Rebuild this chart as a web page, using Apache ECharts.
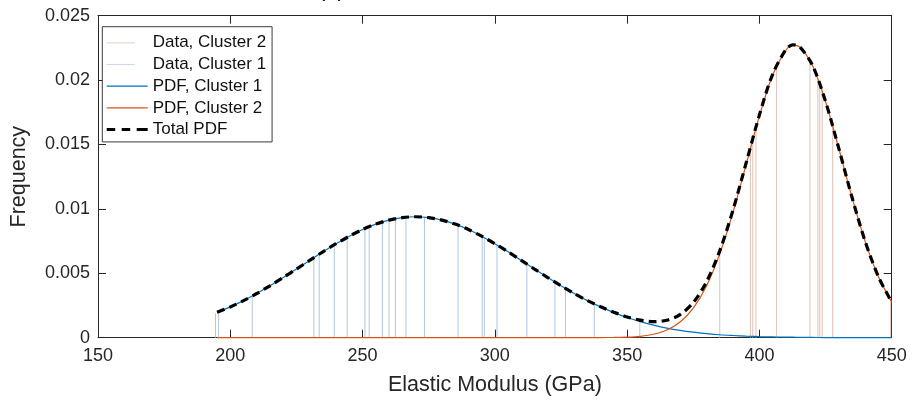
<!DOCTYPE html>
<html>
<head>
<meta charset="utf-8">
<script src="https://cdn.jsdelivr.net/npm/echarts@6/dist/echarts.min.js"></script>
<style>
html,body{margin:0;padding:0;background:#fff;}
#chart{width:912px;height:404px;}
</style>
</head>
<body>
<div id="chart"></div>
<script>
// ---- data ----
const xTicks = [150, 200, 250, 300, 350, 400, 450];
const yTicks = [0, 0.005, 0.01, 0.015, 0.02, 0.025];

const modulusGrid = [195,200,205,210,215,220,225,230,235,240,245,250,255,260,265,270,275,280,285,290,295,300,305,310,315,320,325,330,335,340,345,350,355,360,365,370,375,380,385,390,395,400,405,410,412.5,415,420,425,430,435,440,445,450];
const pdfCluster1 = [0.00198,0.00239,0.00288,0.00343,0.00403,0.00467,0.00533,0.00600,0.00667,0.00730,0.00788,0.00840,0.00882,0.00913,0.00932,0.00939,0.00932,0.00913,0.00882,0.00840,0.00788,0.00730,0.00667,0.00600,0.00533,0.00467,0.00403,0.00343,0.00288,0.00239,0.00195,0.00157,0.00125,0.00098,0.00075,0.00057,0.00043,0.00032,0.00023,0.00017,0.00012,0.00008,0.00006,0.00004,0.00004,0.00003,0.00002,0.00001,0.00001,0.00001,0,0,0];
const pdfCluster2 = [0,0,0,0,0,0,0,0,0,0,0,0,0,0,0,0,0,0,0,0,0,0,0,0,0,0,0,0,0,0.00001,0.00002,0.00004,0.00011,0.00027,0.00060,0.00122,0.00230,0.00402,0.00651,0.00973,0.01346,0.01722,0.02039,0.02232,0.02270,0.02260,0.02116,0.01833,0.01469,0.01089,0.00746,0.00473,0.00277];
const pdfTotal = [0.00198,0.00239,0.00288,0.00343,0.00403,0.00467,0.00533,0.00600,0.00667,0.00730,0.00788,0.00840,0.00882,0.00913,0.00932,0.00939,0.00932,0.00913,0.00882,0.00840,0.00788,0.00730,0.00667,0.00600,0.00533,0.00467,0.00403,0.00343,0.00288,0.00240,0.00197,0.00161,0.00136,0.00125,0.00135,0.00179,0.00273,0.00434,0.00674,0.00990,0.01358,0.01730,0.02045,0.02236,0.02274,0.02263,0.02118,0.01834,0.01470,0.01090,0.00746,0.00473,0.00277];

const dataCluster1X = [194.4,195.6,208.3,231.6,233.6,239.3,244.2,250.9,252.5,257.5,260.0,262.4,266.4,273.4,286.1,295.2,296.0,300.8,312.1,322.7,326.7,337.6,354.8];
const dataCluster1Y = [0.00190,0.00200,0.00324,0.00622,0.00648,0.00722,0.00780,0.00848,0.00862,0.00899,0.00913,0.00924,0.00936,0.00936,0.00873,0.00786,0.00777,0.00720,0.00572,0.00432,0.00382,0.00262,0.00126];
const dataCluster2X = [385.0,396.6,397.5,398.7,406.5,419.1,422.1,422.8,423.7,427.7,449.6];
const dataCluster2Y = [0.00651,0.01469,0.01538,0.01628,0.02112,0.02154,0.02012,0.01972,0.01917,0.01643,0.00290];

const seriesNames = ['Data, Cluster 2','Data, Cluster 1','PDF, Cluster 1','PDF, Cluster 2','Total PDF'];

// ---- chart ----
const FONT = '"Liberation Sans", Arial, Helvetica, sans-serif';
const AX = '#262626';
const C1 = '#0072BD', C2 = '#D95319';
const C1L = '#b0c7dd', C2L = '#dfc2b6';

function zipXY(xs, ys){ return xs.map((x,i)=>[x, ys[i]]); }

function stemRender(color){
  return function(params, api){
    const x = api.value(0), y = api.value(1);
    const p0 = api.coord([x, 0]);
    const p1 = api.coord([x, y]);
    return {
      type: 'line',
      shape: {x1: p0[0], y1: p0[1], x2: p1[0], y2: p1[1]},
      style: {stroke: color, lineWidth: 1}
    };
  };
}

const lineIcon = 'path://M0,0M41,14M0,6.4L41,6.4L41,7.6L0,7.6Z';
const shortIcon = 'path://M0,0M41,14M0,6.4L28,6.4L28,7.6L0,7.6Z';
const dashIcon = 'path://M0,0M41,14M0,5.5L8.5,5.5L8.5,8.5L0,8.5Z M15,5.5L23.5,5.5L23.5,8.5L15,8.5Z M30,5.5L41,5.5L41,8.5L30,8.5Z';

const chart = echarts.init(document.getElementById('chart'), null, {renderer: 'canvas'});

const axisCommon = {
  type: 'value',
  axisLine: {show: true, onZero: false, lineStyle: {color: AX, width: 1}},
  axisTick: {show: true, inside: true, length: 8, lineStyle: {color: AX, width: 1}},
  splitLine: {show: false}
};

chart.setOption({
  animation: false,
  backgroundColor: '#fff',
  textStyle: {fontFamily: FONT},
  title: {
    text: '(a)', left: 313, top: -26,
    textStyle: {fontFamily: FONT, fontSize: 22, fontWeight: 'normal', color: '#000'}
  },
  grid: {left: 91.7, right: 20.3, top: 15.7, bottom: 66.3, containLabel: false},
  legend: {
    orient: 'vertical', left: 102.3, top: 26.7,
    backgroundColor: '#fff', borderColor: '#3a3a3a', borderWidth: 1,
    padding: [7.6, 6, 3.8, 4.4], itemGap: 4.7, itemWidth: 41, itemHeight: 14,
    textStyle: {fontFamily: FONT, fontSize: 17, color: '#111'},
    itemStyle: {borderWidth: 0},
    data: [
      {name: seriesNames[0], icon: shortIcon, itemStyle: {color: '#e9d6cd', borderWidth: 0}},
      {name: seriesNames[1], icon: shortIcon, itemStyle: {color: '#cbd9e7', borderWidth: 0}},
      {name: seriesNames[2], icon: lineIcon, itemStyle: {color: C1, borderWidth: 0}},
      {name: seriesNames[3], icon: lineIcon, itemStyle: {color: C2, borderWidth: 0}},
      {name: seriesNames[4], icon: dashIcon, itemStyle: {color: '#000', borderWidth: 0}}
    ]
  },
  xAxis: [
    Object.assign({}, axisCommon, {
      position: 'bottom', min: xTicks[0], max: xTicks[xTicks.length-1], interval: 50,
      name: 'Elastic Modulus (GPa)', nameLocation: 'middle', nameGap: 36,
      nameTextStyle: {fontFamily: FONT, fontSize: 21.5, color: AX},
      axisLabel: {show: true, margin: 9, fontFamily: FONT, fontSize: 18, color: AX}
    }),
    Object.assign({}, axisCommon, {
      position: 'top', min: xTicks[0], max: xTicks[xTicks.length-1], interval: 50,
      axisLabel: {show: false}
    })
  ],
  yAxis: [
    Object.assign({}, axisCommon, {
      position: 'left', min: yTicks[0], max: yTicks[yTicks.length-1], interval: 0.005,
      name: 'Frequency', nameLocation: 'middle', nameGap: 68,
      nameTextStyle: {fontFamily: FONT, fontSize: 21.5, color: AX},
      axisLabel: {show: true, margin: 8, fontFamily: FONT, fontSize: 18, color: AX}
    }),
    Object.assign({}, axisCommon, {
      position: 'right', min: yTicks[0], max: yTicks[yTicks.length-1], interval: 0.005,
      axisLabel: {show: false}
    })
  ],
  series: [
    {
      name: seriesNames[0], type: 'custom', xAxisIndex: 0, yAxisIndex: 0,
      itemStyle: {color: C2L},
      renderItem: stemRender(C2L),
      encode: {x: 0, y: 1}, clip: false,
      data: zipXY(dataCluster2X, dataCluster2Y), z: 1
    },
    {
      name: seriesNames[1], type: 'custom', xAxisIndex: 0, yAxisIndex: 0,
      itemStyle: {color: C1L},
      renderItem: stemRender(C1L),
      encode: {x: 0, y: 1}, clip: false,
      data: zipXY(dataCluster1X, dataCluster1Y), z: 1
    },
    {
      name: seriesNames[2], type: 'line', showSymbol: false, symbol: 'none', smooth: 0.3, clip: false,
      lineStyle: {color: C1, width: 1.2}, itemStyle: {color: C1},
      data: zipXY(modulusGrid, pdfCluster1), z: 2
    },
    {
      name: seriesNames[3], type: 'line', showSymbol: false, symbol: 'none', smooth: 0.3, clip: false,
      lineStyle: {color: C2, width: 1.2}, itemStyle: {color: C2},
      data: zipXY(modulusGrid, pdfCluster2), z: 3
    },
    {
      name: seriesNames[4], type: 'line', showSymbol: false, symbol: 'none', smooth: 0.3, clip: false,
      lineStyle: {color: '#000', width: 3.2, type: [8, 5]}, itemStyle: {color: '#000'},
      data: zipXY(modulusGrid, pdfTotal), z: 4
    }
  ]
});
</script>
</body>
</html>
